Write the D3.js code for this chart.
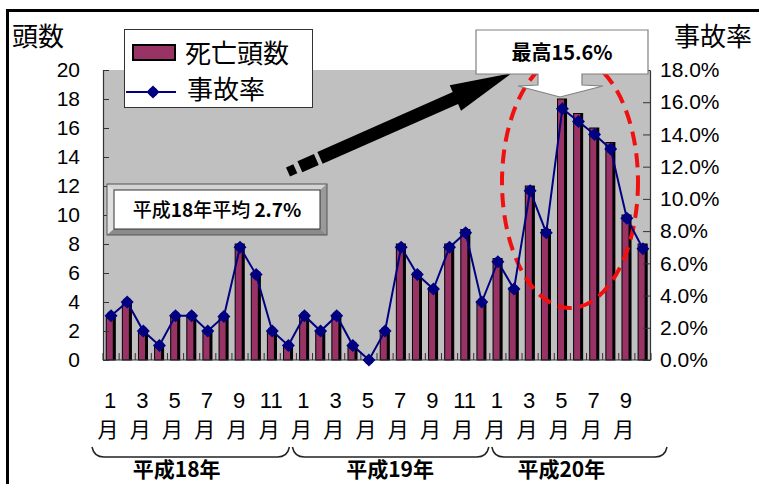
<!DOCTYPE html>
<html><head><meta charset="utf-8">
<script src="https://cdn.jsdelivr.net/npm/d3@7"></script>
<style>
html,body{margin:0;padding:0;background:#fff;}
svg{display:block;}
</style></head><body>
<svg id="c" width="759" height="484"></svg>
<script>
// ---------- data ----------
const monthNums = [1,2,3,4,5,6,7,8,9,10,11,12, 1,2,3,4,5,6,7,8,9,10,11,12, 1,2,3,4,5,6,7,8,9,10];
const deaths    = [3,4,2,1,3,3,2,3,8,6,2,1, 3,2,3,1,0,2,8,6,5,8,9,4, 7,5,12,9,18,17,16,15,10,8];
const rates     = [2.75,3.6,1.8,0.9,2.75,2.75,1.8,2.7,7.0,5.3,1.8,0.9, 2.75,1.8,2.75,0.9,0,1.8,7.0,5.3,4.4,7.0,7.9,3.6, 6.1,4.4,10.5,7.9,15.6,14.8,14.0,13.1,8.8,6.9];
const leftTicks  = [0,2,4,6,8,10,12,14,16,18,20];
const rightTicks = [0,2,4,6,8,10,12,14,16,18];
const yearNames  = ["平成18年","平成19年","平成20年"];
const yearStart  = [0,12,24];
const yearEnd    = [11,23,33];
const legendNames = ["死亡頭数","事故率"];
const leftTitle = "頭数", rightTitle = "事故率";
const avgNote = ["平成","18","年平均 ","2.7%"];
const peakNote = "最高15.6%";

// ---------- layout ----------
const CJK = '"Noto Sans CJK JP","Noto Sans CJK SC",sans-serif';
const NUM = '"Liberation Sans",Arial,sans-serif';
const svg = d3.select("#c");
const P = {l:103, r:651, t:70, b:360};
const x = d3.scaleBand().domain(d3.range(deaths.length)).range([P.l, P.r]).padding(0);
const bw = x.bandwidth();
const xc = i => x(i) + bw/2;
const yL = d3.scaleLinear().domain([0,20]).range([P.b, P.t]);
const yR = d3.scaleLinear().domain([0,18]).range([P.b, P.t]);

// outer frame
svg.append("rect").attr("x",7.5).attr("y",10.5).attr("width",800).attr("height",500)
  .attr("fill","none").attr("stroke","#000").attr("stroke-width",3);

// plot background
svg.append("rect").attr("x",P.l).attr("y",P.t).attr("width",P.r-P.l).attr("height",P.b-P.t)
  .attr("fill","#c0c0c0");

// bars
const bars = svg.append("g");
deaths.forEach((v,i)=>{
  if(v<=0) return;
  const bx = x(i)+bw*0.2, w = bw*0.56;
  bars.append("rect").attr("x",bx).attr("y",yL(v)).attr("width",w).attr("height",yL(0)-yL(v))
    .attr("fill","#993366").attr("stroke","#000").attr("stroke-width",1);
  bars.append("rect").attr("x",bx+w-2.5).attr("y",yL(v)).attr("width",2.5).attr("height",yL(0)-yL(v))
    .attr("fill","#000");
});

// category ticks
const ct = svg.append("g");
d3.range(deaths.length+1).forEach(i=>{
  const xx = P.l + i*bw;
  ct.append("line").attr("x1",xx).attr("x2",xx).attr("y1",P.b).attr("y2",P.b-7)
    .attr("stroke","#333").attr("stroke-width",1);
});
svg.append("line").attr("x1",P.l).attr("x2",P.r).attr("y1",P.b).attr("y2",P.b).attr("stroke","#333");

// axes
const axL = svg.append("g").attr("transform",`translate(${P.l},0)`)
  .call(d3.axisLeft(yL).tickValues(leftTicks).tickSizeInner(-6).tickSizeOuter(0).tickPadding(23));
const axR = svg.append("g").attr("transform",`translate(${P.r-1},0)`)
  .call(d3.axisRight(yR).tickValues(rightTicks).tickSizeInner(-7).tickSizeOuter(0).tickPadding(10)
    .tickFormat(d=>d.toFixed(1)+"%"));
[axL,axR].forEach(a=>{
  a.selectAll("text").attr("font-family",NUM).attr("font-size",21).attr("fill","#000");
  a.select(".domain").attr("stroke","#333").attr("stroke-width",1.2);
  a.selectAll(".tick line").attr("stroke","#333");
});

// red dashed ellipse
svg.append("ellipse").attr("cx",570).attr("cy",182).attr("rx",68).attr("ry",126)
  .attr("fill","none").attr("stroke","#f01010").attr("stroke-width",4)
  .attr("stroke-dasharray","14 8");

// rate line
const line = d3.line().x((d,i)=>xc(i)).y(d=>yR(d));
svg.append("path").datum(rates).attr("d",line).attr("fill","none")
  .attr("stroke","#000080").attr("stroke-width",2);
const diamond = (cx,cy,r)=>`M${cx},${cy-r}L${cx+r},${cy}L${cx},${cy+r}L${cx-r},${cy}Z`;
rates.forEach((v,i)=>{
  svg.append("path").attr("d",diamond(xc(i),yR(v),6.5)).attr("fill","#000080");
  svg.append("circle").attr("cx",xc(i)).attr("cy",yR(v)).attr("r",4.6).attr("fill","#000080");
});

// black arrow
(function(){
  const t0=[288,172], t1=[512,73];
  const dx=t1[0]-t0[0], dy=t1[1]-t0[1], L=Math.hypot(dx,dy);
  const u=[dx/L,dy/L], n=[-u[1],u[0]];
  const pt=(t,s)=>[t0[0]+u[0]*t+n[0]*s, t0[1]+u[1]*t+n[1]*s];
  const quad=(a,b,h)=>[pt(a,-h),pt(b,-h),pt(b,h),pt(a,h)];
  const polys=[quad(0,8,5),quad(13,31,6),quad(35,188,6.5),
    [pt(183,-14),pt(L,0),pt(183,14)]];
  polys.forEach(p=>svg.append("polygon").attr("points",p.map(q=>q.join(",")).join(" ")).attr("fill","#000"));
})();

// peak callout
svg.append("path")
  .attr("d","M476,30 L648,30 L648,74 L582,74 L582,85 L603,86 L560,97 L518,86 L538,85 L538,74 L476,74 Z")
  .attr("fill","#fff").attr("stroke","#808080").attr("stroke-width",1.2);
svg.append("text").attr("x",562).attr("y",60).attr("text-anchor","middle")
  .attr("font-family",CJK).attr("font-weight","bold").attr("font-size",20).text(peakNote);

// average bevel box
(function(){
  const o={x0:107,y0:184,x1:327,y1:235}, i={x0:114,y0:190,x1:320,y1:229};
  const poly=(pts,f)=>svg.append("polygon").attr("points",pts.map(p=>p.join(",")).join(" ")).attr("fill",f);
  poly([[o.x0,o.y0],[o.x1,o.y0],[i.x1,i.y0],[i.x0,i.y0]],"#d4d4d4");
  poly([[o.x0,o.y0],[i.x0,i.y0],[i.x0,i.y1],[o.x0,o.y1]],"#e0e0e0");
  poly([[o.x1,o.y0],[o.x1,o.y1],[i.x1,i.y1],[i.x1,i.y0]],"#9a9a9a");
  poly([[o.x0,o.y1],[o.x1,o.y1],[i.x1,i.y1],[i.x0,i.y1]],"#8a8a8a");
  svg.append("rect").attr("x",o.x0).attr("y",o.y0).attr("width",o.x1-o.x0).attr("height",o.y1-o.y0)
    .attr("fill","none").attr("stroke","#555").attr("stroke-width",1);
  svg.append("rect").attr("x",i.x0).attr("y",i.y0).attr("width",i.x1-i.x0).attr("height",i.y1-i.y0)
    .attr("fill","#fff").attr("stroke","#333").attr("stroke-width",1);
  const t=svg.append("text").attr("x",217).attr("y",217).attr("text-anchor","middle")
    .attr("font-family",CJK).attr("font-size",19);
  avgNote.forEach((s,k)=>t.append("tspan").attr("font-weight",k%2? "bold":"500").text(s));
})();

// legend
svg.append("rect").attr("x",124.5).attr("y",29.5).attr("width",188).attr("height",78)
  .attr("fill","#fff").attr("stroke","#333").attr("stroke-width",1);
svg.append("rect").attr("x",133).attr("y",45).attr("width",42).attr("height",15)
  .attr("fill","#993366").attr("stroke","#000").attr("stroke-width",2);
svg.append("line").attr("x1",126).attr("x2",176).attr("y1",92).attr("y2",92)
  .attr("stroke","#000080").attr("stroke-width",2);
svg.append("path").attr("d",diamond(153,92,6.5)).attr("fill","#000080");
svg.append("circle").attr("cx",153).attr("cy",92).attr("r",4.6).attr("fill","#000080");
svg.append("text").attr("x",185).attr("y",63).attr("font-family",CJK).attr("font-size",26).text(legendNames[0]);
svg.append("text").attr("x",187).attr("y",99).attr("font-family",CJK).attr("font-size",26).text(legendNames[1]);

// titles
svg.append("text").attr("x",12).attr("y",46).attr("font-family",CJK).attr("font-size",26).text(leftTitle);
svg.append("text").attr("x",752).attr("y",46).attr("text-anchor","end").attr("font-family",CJK).attr("font-size",26).text(rightTitle);

// month labels
monthNums.forEach((m,i)=>{
  if(m%2===0) return;
  svg.append("text").attr("x",xc(i)-1).attr("y",408).attr("text-anchor","middle")
    .attr("font-family",NUM).attr("font-size",22).text(String(m));
  svg.append("text").attr("x",xc(i)-3).attr("y",437).attr("text-anchor","middle")
    .attr("font-family",CJK).attr("font-size",21).text("月");
});

// year braces and labels
const joins = [x(0)-11, x(12)-6, x(24), P.r+16];
const labelX = [xc(5)-15, (x(12)+x(23)+bw)/2-3, xc(28)-1];
yearNames.forEach((nm,k)=>{
  const x0=joins[k]+ (k? 2:0), x1=joins[k+1]-(k<2?1:0);
  svg.append("path")
    .attr("d",`M${x0},447 Q${x0+2},457 ${x0+12},457 L${x1-12},457 Q${x1-2},457 ${x1},447`)
    .attr("fill","none").attr("stroke","#222").attr("stroke-width",1.5);
  svg.append("text").attr("x",labelX[k]).attr("y",477).attr("text-anchor","middle")
    .attr("font-family",CJK).attr("font-weight","bold").attr("font-size",21).text(nm);
});
</script>
</body></html>
